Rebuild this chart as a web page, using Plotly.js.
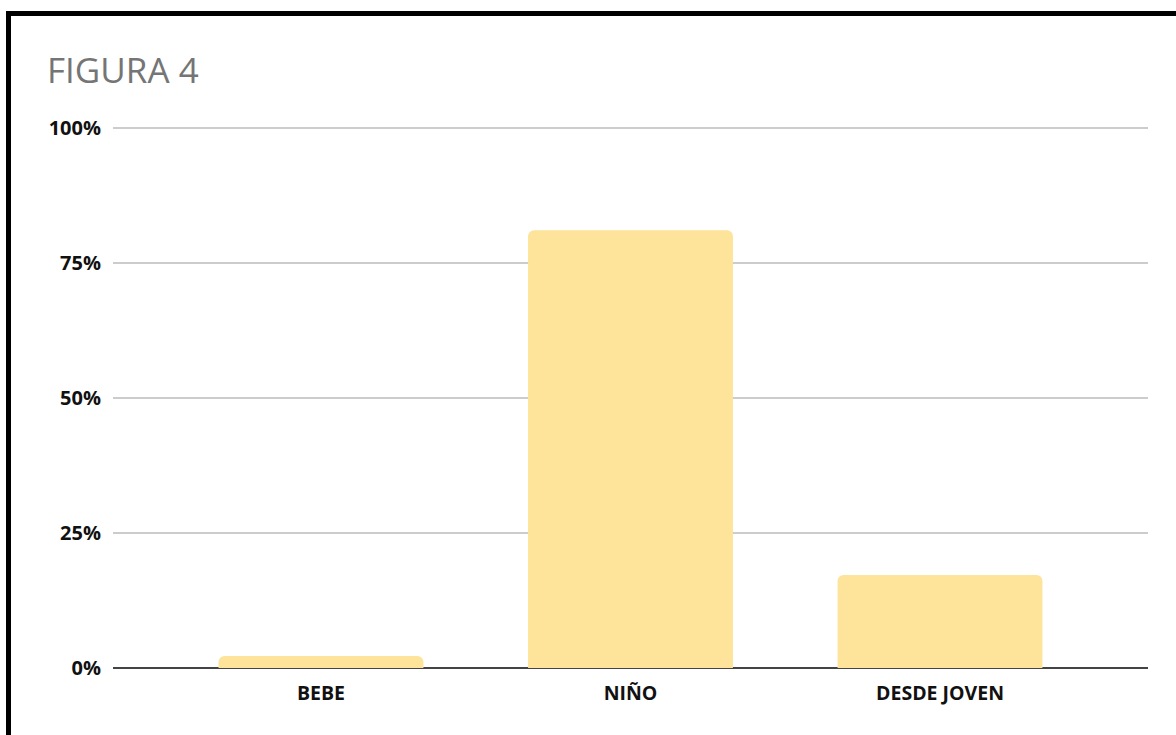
<!DOCTYPE html>
<html>
<head>
<meta charset="utf-8">
<script src="https://cdn.plot.ly/plotly-3.0.1.min.js"></script>
<style>
  html, body { margin: 0; padding: 0; background: #fff; overflow: hidden; }
  #wrap { position: relative; width: 1176px; height: 735px; }
  #chart { position: absolute; left: 0; top: 0; width: 1176px; height: 735px; }
  #frame { position: absolute; left: 6px; top: 11px; width: 1180px; height: 740px;
           border-top: 5px solid #000; border-left: 5px solid #000; pointer-events: none; }
</style>
</head>
<body>
<div id="wrap">
  <div id="chart"></div>
  <div id="frame"></div>
</div>
<script>
const categories = ["BEBE", "NIÑO", "DESDE JOVEN"];
const values = [0.022, 0.81, 0.172];
const tickValues = [0, 0.25, 0.5, 0.75, 1];
const tickLabels = ["0%", "25%", "50%", "75%", "100%"];

const trace = {
  type: "bar",
  x: categories,
  y: values,
  width: 0.662,
  marker: { color: "#FDE49A", cornerradius: 6 },
  hoverinfo: "x+y"
};

const layout = {
  width: 1176,
  height: 735,
  paper_bgcolor: "#ffffff",
  plot_bgcolor: "#ffffff",
  margin: { l: 113, r: 28, t: 126, b: 67 },
  showlegend: false,
  title: {
    text: "FIGURA 4",
    font: { family: "Open Sans, sans-serif", size: 35, color: "#757575" },
    xref: "container", x: 47 / 1176, xanchor: "left",
    yref: "container", y: 1 - 71 / 735, yanchor: "middle"
  },
  xaxis: {
    type: "category",
    range: [-0.672, 2.672],
    showgrid: false,
    showline: false,
    zeroline: false,
    ticks: "",
    tickfont: { family: "Open Sans, sans-serif", size: 19.5, color: "#111", weight: "bold" },
    ticklabelstandoff: 11
  },
  yaxis: {
    range: [0, 1.003],
    tickvals: tickValues,
    ticktext: tickLabels,
    showgrid: true,
    gridcolor: "#cccccc",
    gridwidth: 2,
    zeroline: true,
    zerolinecolor: "#444444",
    zerolinewidth: 2,
    showline: false,
    ticks: "",
    tickfont: { family: "Open Sans, sans-serif", size: 20, color: "#111", weight: "bold" },
    ticklabelstandoff: 11
  },
  bargap: 0.338
};

Plotly.newPlot("chart", [trace], layout, { displayModeBar: false, staticPlot: true });
</script>
</body>
</html>
